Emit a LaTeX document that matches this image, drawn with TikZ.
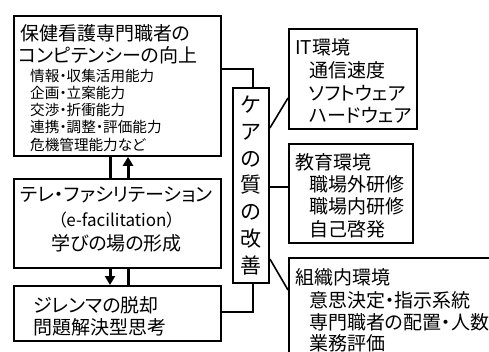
\documentclass[tikz,border=0pt]{standalone}
\usepackage{fontspec}
\setmainfont{Noto Sans CJK JP}[RawFeature=+palt]
\usetikzlibrary{arrows.meta}
\begin{document}
\begin{tikzpicture}[x=1pt,y=-1pt,
  box/.style={draw=black,line width=1.8pt,fill=white,inner sep=0pt,anchor=north west},
  txt/.style={anchor=west,inner sep=0pt},
  big/.style={font=\fontsize{19}{22}\selectfont},
  small/.style={font=\fontsize{14.6}{16}\selectfont},
  conn/.style={line width=1.6pt},
  thick arrow/.style={line width=3pt},
  tip/.style={-{Triangle[length=9pt,width=10pt]}}]
\useasboundingbox (0,0) rectangle (489,352);
\clip (0,0) rectangle (489,352);
\fill[white] (0,0) rectangle (489,352);
% coordinates
\coordinate (xa) at (110,0);
\coordinate (xb) at (128,0);
\coordinate (xc) at (253,0);
\coordinate (ya) at (0,69);
\coordinate (yb) at (0,312);
% left boxes
\node[box,minimum width=207pt,minimum height=140pt] (b1) at (13,15) {};
\node[box,minimum width=207pt,minimum height=89pt] (b2) at (13,178) {};
\node[box,minimum width=207pt,minimum height=55pt] (b3) at (13,285) {};
% arrows between left boxes
\draw[thick arrow] (xa |- b1.south) -- (xa |- b2.north);
\draw[thick arrow,tip] (xb |- b2.north) -- (xb |- b1.south);
\draw[thick arrow,tip] (xa |- b2.south) -- (xa |- b3.north);
\draw[thick arrow] (xb |- b3.north) -- (xb |- b2.south);
% care box
\node[box,anchor=center,minimum width=36pt,minimum height=195pt,align=center,
  font=\fontsize{21}{26.8}\selectfont] (care) at (251,185.5) {ケ\\ア\\の\\質\\の\\改\\善};
% right boxes
\node[box,minimum width=128pt,minimum height=100pt] (it) at (288,28) {};
\node[box,minimum width=124pt,minimum height=99pt] (edu) at (288,143) {};
\node[box,minimum width=230pt,minimum height=120pt] (org) at (288,257) {};
% connectors
\coordinate (c1) at (269,128);
\coordinate (c2) at (288,98);
\coordinate (c3) at (269,259);
\coordinate (c4) at (288,290);
\coordinate (ye) at (0,187);
\draw[conn] (b1.east |- ya) -| (xc |- care.north);
\draw[conn] (b3.east |- yb) -| (xc |- care.south);
\draw[conn] (care.east |- c1) -- (it.west |- c2);
\draw[conn] (care.east |- ye) -- (edu.west |- ye);
\draw[conn] (care.east |- c3) -- (org.west |- c4);
% box 1 text
\node[txt,big] (t1a) at (20,33) {保健看護専門職者の};
\node[txt,big] (t1b) at (18,55) {コンピテンシーの向上};
\node[txt,small] (t1c) at (30,76) {情報・収集活用能力};
\node[txt,small] (t1d) at (30,93) {企画・立案能力};
\node[txt,small] (t1e) at (30,110) {交渉・折衝能力};
\node[txt,small] (t1f) at (30,127) {連携・調整・評価能力};
\node[txt,small] (t1g) at (30,145) {危機管理能力など};
% box 2 text
\node[big,inner sep=0pt] (t2a) at (116.5,195) {テレ・ファシリテーション};
\node[font=\fontsize{17}{20}\selectfont,inner sep=0pt] (t2b) at (116.5,220) {（e-facilitation）};
\node[big,inner sep=0pt] (t2c) at (116.5,243) {学びの場の形成};
% box 3 text
\node[txt,big] (t3a) at (33,305) {ジレンマの脱却};
\node[txt,big] (t3b) at (33,327) {問題解決型思考};
% IT text
\node[txt,big] (i1) at (295,47) {IT環境};
\node[txt,big] (i2) at (309,70) {通信速度};
\node[txt,big] (i3) at (309,93) {ソフトウェア};
\node[txt,big] (i4) at (309,115) {ハードウェア};
% edu text
\node[txt,big] (e1) at (295,162) {教育環境};
\node[txt,big] (e2) at (309,184) {職場外研修};
\node[txt,big] (e3) at (309,206) {職場内研修};
\node[txt,big] (e4) at (309,229) {自己啓発};
% org text
\node[txt,big] (o1) at (295,277) {組織内環境};
\node[txt,big] (o2) at (309,300) {意思決定・指示系統};
\node[txt,big] (o3) at (309,322) {専門職者の配置・人数};
\node[txt,big] (o4) at (309,343) {業務評価};
\end{tikzpicture}
\end{document}
